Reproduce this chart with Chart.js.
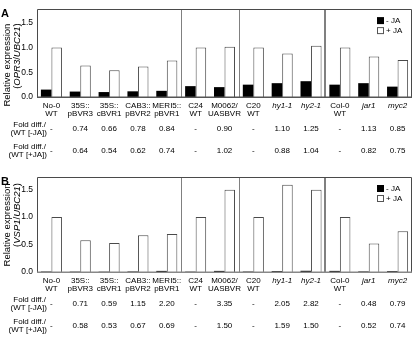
<!DOCTYPE html>
<html><head><meta charset="utf-8">
<script src="https://cdn.jsdelivr.net/npm/chart.js@4/dist/chart.umd.min.js"></script>
<style>
html,body{margin:0;padding:0;background:#fff;width:415px;height:338px;overflow:hidden}
canvas{position:absolute;left:0}
#ca{top:0}
#cb{top:165px}
</style></head><body>
<canvas id="ca" width="415" height="165"></canvas>
<canvas id="cb" width="415" height="173"></canvas>
<script>
// ---------- data ----------
const categories = [["No-0","WT"],["35S::","pBVR3"],["35S::","cBVR1"],["CAB3::","pBVR2"],["MERI5::","pBVR1"],["C24","WT"],["M0062/","UASBVR"],["C20","WT"],["hy1-1"],["hy2-1"],["Col-0","WT"],["jar1"],["myc2"]];
const italicCategories = [8, 9, 11, 12];
const groupEnds = [4, 6, 9];           // separator after these category indices
const seriesNames = ["- JA", "+ JA"];
const yTickValues = [0, 0.5, 1.0, 1.5];

const opr3MinusJA = [0.15, 0.11, 0.10, 0.115, 0.125, 0.22, 0.20, 0.25, 0.28, 0.32, 0.25, 0.28, 0.21];
const opr3PlusJA  = [1.00, 0.64, 0.54, 0.62, 0.74, 1.00, 1.02, 1.00, 0.88, 1.04, 1.00, 0.82, 0.75];
const opr3FoldMinus = ["-","0.74","0.66","0.78","0.84","-","0.90","-","1.10","1.25","-","1.13","0.85"];
const opr3FoldPlus  = ["-","0.64","0.54","0.62","0.74","-","1.02","-","0.88","1.04","-","0.82","0.75"];

const vsp1MinusJA = [0.008, 0.006, 0.005, 0.009, 0.02, 0.006, 0.02, 0.008, 0.016, 0.022, 0.02, 0.01, 0.016];
const vsp1PlusJA  = [1.00, 0.58, 0.53, 0.67, 0.69, 1.00, 1.50, 1.00, 1.59, 1.50, 1.00, 0.52, 0.74];
const vsp1FoldMinus = ["-","0.71","0.59","1.15","2.20","-","3.35","-","2.05","2.82","-","0.48","0.79"];
const vsp1FoldPlus  = ["-","0.58","0.53","0.67","0.69","-","1.50","-","1.59","1.50","-","0.52","0.74"];

const foldRowLabels = [["Fold diff./","(WT [-JA])"],["Fold diff./","(WT [+JA])"]];

// ---------- drawing ----------
const F = '"Liberation Sans", Arial, sans-serif';

function drawMixed(ctx, segs, cx, cy, size) {
  let w = 0;
  segs.forEach(s => { ctx.font = (s[1] ? 'italic ' : '') + size + 'px ' + F; w += ctx.measureText(s[0]).width; });
  let xx = cx - w / 2;
  ctx.textAlign = 'left';
  segs.forEach(s => { ctx.font = (s[1] ? 'italic ' : '') + size + 'px ' + F; ctx.fillText(s[0], xx, cy); xx += ctx.measureText(s[0]).width; });
}

function panelPlugin(p) {
  return {
    id: 'panel' + p.letter,
    afterDraw(chart) {
      const {ctx, chartArea: a, scales: {x}} = chart;
      ctx.save();
      // separators
      ctx.strokeStyle = '#808080';
      groupEnds.forEach((g, k) => {
        const px = Math.round((x.getPixelForValue(g) + x.getPixelForValue(g + 1)) / 2);
        ctx.lineWidth = k === 2 ? 2 : 1;
        ctx.beginPath();
        ctx.moveTo(px + (k === 2 ? 0 : 0.5), a.top);
        ctx.lineTo(px + (k === 2 ? 0 : 0.5), a.bottom);
        ctx.stroke();
      });
      // box
      ctx.strokeStyle = '#4a4a4a';
      ctx.lineWidth = 1;
      const L = Math.round(a.left) + 0.5, T = Math.round(a.top) + 0.5, R = Math.round(a.right) - 0.5, B = Math.round(a.bottom);
      ctx.beginPath();
      ctx.moveTo(L, B); ctx.lineTo(L, T); ctx.lineTo(R, T); ctx.lineTo(R, B);
      ctx.stroke();
      ctx.strokeStyle = p.baseColor;
      ctx.lineWidth = 1.5;
      ctx.beginPath(); ctx.moveTo(L - 0.5, B + 0.25); ctx.lineTo(R + 0.5, B + 0.25); ctx.stroke();

      ctx.fillStyle = '#000';
      ctx.textBaseline = 'middle';
      // category labels
      categories.forEach((c, i) => {
        const px = x.getPixelForValue(i);
        ctx.font = (italicCategories.includes(i) ? 'italic ' : '') + '8px ' + F;
        ctx.textAlign = 'center';
        c.forEach((line, j) => ctx.fillText(line, px, a.bottom + 8.5 + j * 8.5));
      });
      // fold rows
      [p.foldMinus, p.foldPlus].forEach((row, r) => {
        const yc = a.bottom + 32 + r * 22;
        ctx.font = '8px ' + F;
        ctx.textAlign = 'right';
        ctx.fillText(foldRowLabels[r][0], 46, yc - 4.5);
        ctx.fillText(foldRowLabels[r][1], 47, yc + 4);
        ctx.textAlign = 'center';
        row.forEach((v, i) => ctx.fillText(v, x.getPixelForValue(i), yc));
      });
      // legend
      const lx = 377, ly = a.top + 8;
      ctx.fillStyle = '#000';
      ctx.fillRect(lx, ly, 7, 7);
      ctx.strokeStyle = '#555'; ctx.lineWidth = 1;
      ctx.strokeRect(lx + 0.5, ly + 10.5, 6, 6);
      ctx.font = '8px ' + F;
      ctx.textAlign = 'left';
      ctx.fillText(seriesNames[0], lx + 9, ly + 3.5);
      ctx.fillText(seriesNames[1], lx + 9, ly + 13.5);
      // panel letter
      ctx.font = 'bold 11px ' + F;
      ctx.textBaseline = 'top';
      ctx.fillText(p.letter, 1, a.top - 1);
      // y title
      ctx.textBaseline = 'middle';
      ctx.save();
      ctx.translate(7.5, a.top + p.t1);
      ctx.rotate(-Math.PI / 2);
      drawMixed(ctx, [["Relative expression", false]], 0, 0, 9.5);
      ctx.restore();
      ctx.save();
      ctx.translate(17.5, a.top + p.t2);
      ctx.rotate(-Math.PI / 2);
      drawMixed(ctx, [["(", false], [p.gene, true], ["/", false], ["UBC21", true], [")", false]], 0, 0, 9.5);
      ctx.restore();
      ctx.restore();
    }
  };
}

function makeChart(id, minus, plus, p) {
  return new Chart(document.getElementById(id), {
    type: 'bar',
    data: {
      labels: categories.map(c => c.join(' ')),
      datasets: [
        {label: seriesNames[0], data: minus, backgroundColor: '#000', borderWidth: 0, barPercentage: 1, categoryPercentage: 0.73},
        {label: seriesNames[1], data: plus, backgroundColor: '#fff', borderColor: '#4a4a4a', borderWidth: 1, barPercentage: 1, categoryPercentage: 0.73}
      ]
    },
    options: {
      responsive: false, animation: false, devicePixelRatio: 1,
      layout: {padding: {top: p.padTop, right: 3, left: 0, bottom: 0}},
      plugins: {legend: {display: false}, tooltip: {enabled: false}},
      scales: {
        x: {grid: {display: false}, border: {display: false}, ticks: {display: false}, afterFit(s) { s.height = p.xH; }},
        y: {
          min: 0, max: p.max,
          grid: {display: false, drawTicks: false}, border: {display: false},
          afterBuildTicks(s) { s.ticks = yTickValues.map(v => ({value: v})); },
          ticks: {callback: v => Number(v).toFixed(1), font: {family: F, size: 8.5}, color: '#000', padding: 4},
          afterFit(s) { s.width = 37; }
        }
      }
    },
    plugins: [panelPlugin(p)]
  });
}

makeChart('ca', opr3MinusJA, opr3PlusJA, {letter: 'A', gene: 'OPR3', foldMinus: opr3FoldMinus, foldPlus: opr3FoldPlus, padTop: 1, xH: 68, max: 1.78, t1: 56, t2: 47, baseColor: '#555'});
makeChart('cb', vsp1MinusJA, vsp1PlusJA, {letter: 'B', gene: 'VSP1', foldMinus: vsp1FoldMinus, foldPlus: vsp1FoldPlus, padTop: 12, xH: 66, max: 1.73, t1: 48, t2: 38, baseColor: '#888'});
</script>
</body></html>
